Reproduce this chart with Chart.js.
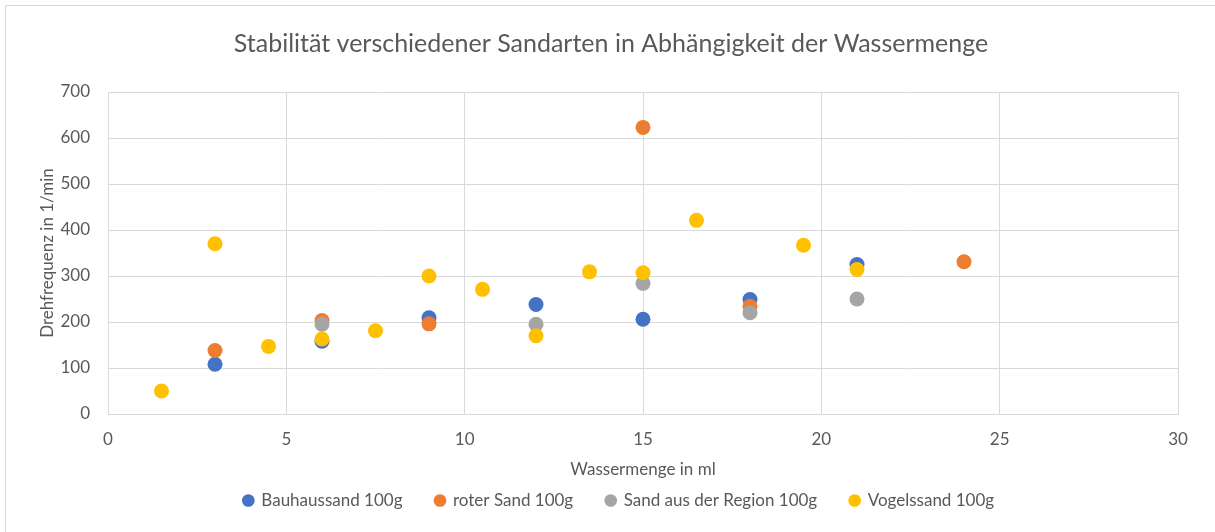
<!DOCTYPE html>
<html>
<head>
<meta charset="utf-8">
<script src="https://cdn.jsdelivr.net/npm/chart.js@4.4.0/dist/chart.umd.min.js"></script>
<style>
  html, body { margin: 0; padding: 0; background: #fff; }
  #wrap { position: relative; width: 1215px; height: 532px; overflow: hidden; }
  #frame { position: absolute; left: 5px; top: 5px; width: 1220px; height: 540px; border: 1px solid #D9D9D9; box-sizing: border-box; }
  canvas { position: absolute; left: 0; top: 0; }
</style>
</head>
<body>
<div id="wrap">
  <div id="frame"></div>
  <canvas id="c" width="1215" height="532"></canvas>
</div>
<script>
const titleText = "Stabilität verschiedener Sandarten in Abhängigkeit der Wassermenge";
const xTitle = "Wassermenge in ml";
const yTitle = "Drehfrequenz in 1/min";

const seriesNames = ["Bauhaussand 100g", "roter Sand 100g", "Sand aus der Region 100g", "Vogelssand 100g"];
const seriesColors = ["#4472C4", "#ED7D31", "#A5A5A5", "#FFC000"];

const bauhausX = [3, 6, 9, 12, 15, 18, 21];
const bauhausY = [108, 158, 209, 238, 206, 249, 325];

const roterX = [3, 6, 9, 15, 18, 24];
const roterY = [138, 203, 196, 623, 234, 331];

const regionX = [6, 12, 15, 18, 21];
const regionY = [195, 195, 284, 220, 250];

const vogelX = [1.5, 3, 4.5, 6, 7.5, 9, 10.5, 12, 13.5, 15, 16.5, 19.5, 21];
const vogelY = [50, 370, 147, 163, 181, 300, 271, 170, 309, 307, 421, 367, 314];

const xMin = 0, xMax = 30, xStep = 5;
const yMin = 0, yMax = 700, yStep = 100;

function pts(xs, ys) { return xs.map((x, i) => ({ x: x, y: ys[i] })); }
const allX = [bauhausX, roterX, regionX, vogelX];
const allY = [bauhausY, roterY, regionY, vogelY];

const FONT = "Lato, 'Open Sans', sans-serif";
const TEXT = "#595959";
const GRID = "#D9D9D9";

const datasets = seriesNames.map((n, i) => ({
  label: n,
  data: pts(allX[i], allY[i]),
  backgroundColor: seriesColors[i],
  borderColor: seriesColors[i],
  pointRadius: 7.5,
  pointHoverRadius: 7.5,
  pointBorderWidth: 0,
  showLine: false,
  order: seriesNames.length - 1 - i
}));

const legendShift = {
  id: 'legendShift',
  afterLayout(chart) {
    if (chart.legend) { chart.legend.left += 8; chart.legend.right += 8; }
  }
};

new Chart(document.getElementById('c'), {
  type: 'scatter',
  data: { datasets: datasets },
  plugins: [legendShift],
  options: {
    responsive: false,
    animation: false,
    events: [],
    layout: { padding: { left: 7, right: 0, top: 0, bottom: 13 } },
    plugins: {
      tooltip: { enabled: false },
      title: {
        display: true,
        text: titleText,
        color: TEXT,
        font: { family: FONT, size: 25, weight: 'normal' },
        padding: { top: 29, bottom: 33 }
      },
      legend: {
        display: true,
        position: 'bottom',
        labels: {
          usePointStyle: true,
          pointStyle: 'circle',
          boxWidth: 9,
          boxHeight: 9,
          padding: 33,
          color: TEXT,
          font: { family: FONT, size: 17 },
          sort: (a, b) => a.datasetIndex - b.datasetIndex
        }
      }
    },
    scales: {
      x: {
        type: 'linear',
        min: xMin, max: xMax,
        ticks: { stepSize: xStep, color: TEXT, font: { family: FONT, size: 17 }, padding: 15 },
        grid: { color: GRID, drawTicks: false, lineWidth: 1 },
        border: { color: GRID, width: 1 },
        title: { display: true, text: xTitle, color: TEXT, font: { family: FONT, size: 17 }, padding: { top: 0, bottom: -21 } },
        afterFit: function (s) { s.height = 45; }
      },
      y: {
        type: 'linear',
        min: yMin, max: yMax,
        ticks: { stepSize: yStep, color: TEXT, font: { family: FONT, size: 17 }, padding: 18 },
        grid: { color: GRID, drawTicks: false, lineWidth: 1 },
        border: { color: GRID, width: 1 },
        title: { display: true, text: yTitle, color: TEXT, font: { family: FONT, size: 17 }, padding: { top: 30, bottom: 0 } },
        afterFit: function (s) { s.width = 101; }
      },
      yRight: {
        type: 'linear',
        position: 'right',
        min: yMin, max: yMax,
        display: true,
        ticks: { display: false },
        grid: { display: false, drawTicks: false },
        border: { display: false },
        afterFit: function (s) { s.width = 37; }
      }
    }
  }
});
</script>
</body>
</html>
